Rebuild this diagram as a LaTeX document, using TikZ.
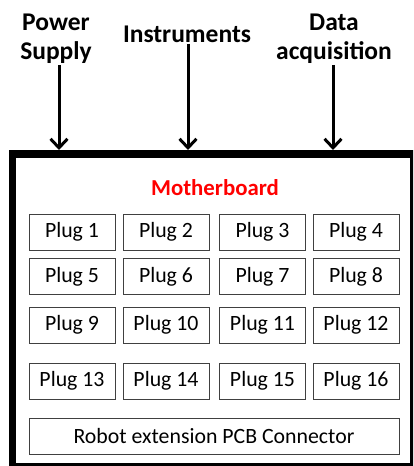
\documentclass[tikz,border=0pt]{standalone}
\usepackage{fontspec}
\setmainfont{Carlito}
\usetikzlibrary{arrows.meta}
\tikzset{
    plug/.style={draw=black!75, line width=0.8pt, minimum width=86pt, minimum height=36pt, inner sep=0pt, font=\fontsize{21.8}{24}\selectfont},
    source/.style={font=\fontsize{25.5}{29}\selectfont\bfseries, align=center, inner sep=1pt},
    feed/.style={line width=3pt, -{Straight Barb[length=9pt,width=17pt]}}
}
\begin{document}
\begin{tikzpicture}[x=1pt, y=-1pt]
    \useasboundingbox (0,0) rectangle (413,466);
    \clip (0,0) rectangle (413,466);
    % the motherboard frame
    \draw[line width=7.5pt] (12.5,154) rectangle (414,467);
    \node[font=\fontsize{22.8}{24}\selectfont\bfseries, text=red] (mb) at (215,188) {Motherboard};
    % the texts on top
    \node[source] (power) at (56,39) {Power\\Supply};
    \node[source] (instr) at (187,34) {Instruments};
    \node[source] (daq) at (334,39) {Data\\acquisition};
    % where the arrows end on the frame
    \coordinate (p0) at (59,150);
    \coordinate (i0) at (188,150);
    \coordinate (d0) at (333,150);
    % the plugs
    \node[plug] (p1) at (72,232) {Plug 1};
    \node[plug] (p2) at (166,232) {Plug 2};
    \node[plug] (p3) at (262.5,232) {Plug 3};
    \node[plug] (p4) at (356,232) {Plug 4};
    \node[plug] (p5) at (72,276.5) {Plug 5};
    \node[plug] (p6) at (166,276.5) {Plug 6};
    \node[plug] (p7) at (262.5,276.5) {Plug 7};
    \node[plug] (p8) at (356,276.5) {Plug 8};
    \node[plug] (p9) at (72,325) {Plug 9};
    \node[plug] (p10) at (166,325) {Plug 10};
    \node[plug] (p11) at (262.5,325) {Plug 11};
    \node[plug] (p12) at (356,325) {Plug 12};
    \node[plug] (p13) at (72,381) {Plug 13};
    \node[plug] (p14) at (166,381) {Plug 14};
    \node[plug] (p15) at (262.5,381) {Plug 15};
    \node[plug] (p16) at (356,381) {Plug 16};
    \node[plug, minimum width=370pt] (pcb) at (214,436) {Robot extension PCB Connector};
    % draw the arrows
    \draw[feed] (power.south -| p0) -- (p0);
    \draw[feed] (instr.south -| i0) -- (i0);
    \draw[feed] (daq.south -| d0) -- (d0);
\end{tikzpicture}
\end{document}
